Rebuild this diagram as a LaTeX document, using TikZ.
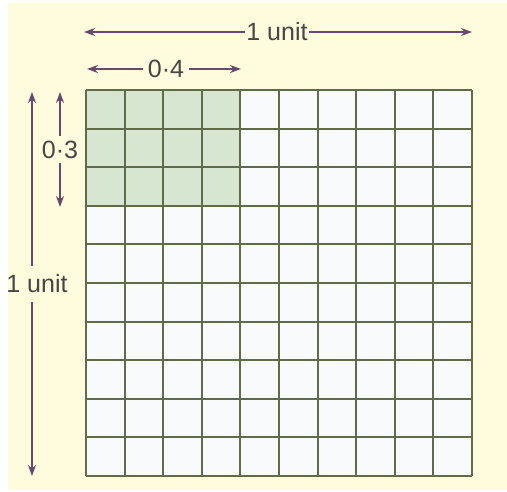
\documentclass[tikz,border=0pt]{standalone}
\usepackage{fontspec}
\setmainfont{Liberation Sans}
\usepackage{xcolor}
\usepackage{tikz}
\usetikzlibrary{arrows.meta, positioning, calc}

\definecolor{paper}{RGB}{255,251,221}
\definecolor{cellwhite}{RGB}{249,250,252}
\definecolor{gridline}{RGB}{96,108,72}
\definecolor{cellgreen}{RGB}{214,230,209}
\definecolor{dimcol}{RGB}{104,72,112}
\definecolor{labelcol}{RGB}{70,70,70}

\tikzset{
  dimline/.style={draw=dimcol, line width=2pt, {Stealth[length=11pt,width=8pt]}-{Stealth[length=11pt,width=8pt]}},
  dimlabel/.style={fill=paper, text=labelcol, font=\fontsize{25}{28}\selectfont, inner sep=2pt}
}

\begin{document}
\begin{tikzpicture}[x=1pt,y=-1pt]
  % page and cream card
  \useasboundingbox (0,0) rectangle (507,491);
  \fill[white] (0,0) rectangle (507,491);
  \fill[paper] (8,3) rectangle (507,490);
  % 10 x 10 grid, cell = 38.6
  \def\cell{38.6}
  \coordinate (g0) at (86,90);
  \fill[cellwhite] (g0) rectangle ++({10*\cell},{10*\cell});
  % green block 0.4 x 0.3
  \fill[cellgreen] (g0) rectangle ++({4*\cell},{3*\cell});
  \foreach \i in {0,...,10} {
    \draw[gridline, line width=2pt] ($(g0)+({\i*\cell},0)$) -- ++(0,{10*\cell});
    \draw[gridline, line width=2pt] ($(g0)+(0,{\i*\cell})$) -- ++({10*\cell},0);
  }
  % dimension ends
  \coordinate (topL) at (84,32);
  \coordinate (topR) at (472,32);
  \coordinate (fourL) at (87,69);
  \coordinate (fourR) at (241,69);
  \coordinate (sideT) at (32,92);
  \coordinate (sideB) at (32,476);
  \coordinate (threeT) at (60,92);
  \coordinate (threeB) at (60,207);
  % dimension arrows
  \draw[dimline] (topL) -- (topR) node[midway, dimlabel, inner sep=1pt, xshift=-1pt] (oneTop) {1 unit};
  \draw[dimline] (fourL) -- (fourR) node[midway, dimlabel, inner xsep=5pt, xshift=2pt] (zeroFour) {0·4};
  \draw[dimline] (sideT) -- (sideB) node[midway, dimlabel, inner ysep=9pt, xshift=5pt] (oneSide) {1 unit};
  \draw[dimline] (threeT) -- (threeB) node[midway, dimlabel, inner ysep=5pt] (zeroThree) {0·3};
  % white margin cuts the left label
  \fill[white] (0,0) rectangle (8,491);
\end{tikzpicture}
\end{document}
